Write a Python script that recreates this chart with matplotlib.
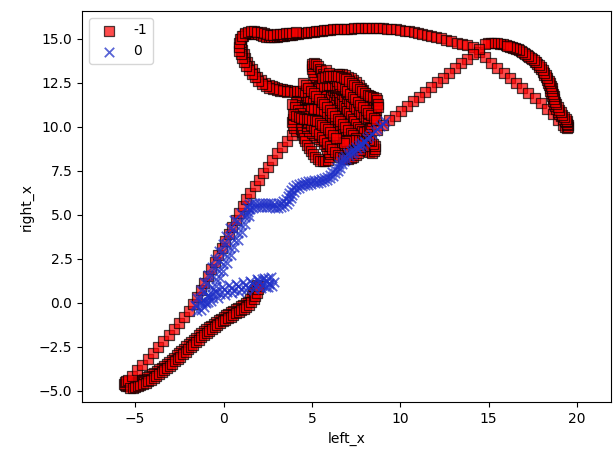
import matplotlib
matplotlib.use("Agg")
import matplotlib.pyplot as plt
import numpy as np

# ---------------- data: class -1 (red squares), trajectory pieces ----------------
red_low_x = [1.9, 1.85, 1.8, 1.74, 1.68, 1.6, 1.5, 1.38, 1.25, 1.12, 0.98, 0.84, 0.7, 0.56, 0.42, 0.28, 0.14, 0.0,
             -0.14, -0.28, -0.42, -0.56, -0.7, -0.84, -0.98, -1.12, -1.26, -1.4, -1.54, -1.68, -1.82, -1.96, -2.1,
             -2.24, -2.38, -2.52, -2.66, -2.8, -2.94, -3.08, -3.22, -3.36, -3.5, -3.64, -3.78, -3.92, -4.06, -4.2,
             -4.34, -4.48, -4.62, -4.76, -4.9, -5.04, -5.18, -5.3, -5.42, -5.52, -5.6, -5.62, -5.58, -5.5, -5.4]
red_low_y = [1.0, 0.88, 0.75, 0.62, 0.5, 0.36, 0.2, 0.06, -0.04, -0.12, -0.2, -0.29, -0.37, -0.45, -0.53, -0.62,
             -0.71, -0.8, -0.9, -1.0, -1.1, -1.2, -1.3, -1.4, -1.5, -1.62, -1.74, -1.86, -1.98, -2.1, -2.23, -2.36,
             -2.49, -2.62, -2.75, -2.88, -3.0, -3.12, -3.24, -3.36, -3.47, -3.58, -3.69, -3.79, -3.89, -3.98, -4.07,
             -4.15, -4.23, -4.31, -4.38, -4.45, -4.52, -4.58, -4.64, -4.69, -4.73, -4.74, -4.7, -4.62, -4.53, -4.45,
             -4.38]

red_low2_x = [-5.3, -5.15, -5.0, -4.85, -4.7, -4.55, -4.4, -4.25, -4.1, -3.95, -3.8, -3.65, -3.5, -3.35, -3.2,
              -3.05, -2.9, -2.75, -2.6, -2.45, -2.3, -2.15, -2.0, -1.85, -1.7, -1.55, -1.4, -1.25, -1.1, -0.95,
              -0.8, -0.65, -0.5, -0.35, -0.2, -0.05, 0.1, 0.25, 0.4, 0.55, 0.7, 0.85, 1.0, 1.15, 1.3, 1.45, 1.58,
              1.7, 1.8, 1.88, 1.94, 1.98]
red_low2_y = [-4.86, -4.84, -4.8, -4.75, -4.69, -4.62, -4.54, -4.46, -4.37, -4.27, -4.16, -4.05, -3.94, -3.82,
              -3.7, -3.58, -3.46, -3.33, -3.2, -3.07, -2.94, -2.8, -2.66, -2.52, -2.38, -2.24, -2.1, -1.97, -1.84,
              -1.72, -1.6, -1.49, -1.38, -1.27, -1.17, -1.07, -0.97, -0.88, -0.79, -0.7, -0.61, -0.52, -0.43,
              -0.34, -0.24, -0.12, 0.02, 0.18, 0.36, 0.55, 0.75, 0.95]

red_rise_x = [-5.2, -4.9, -4.6, -4.3, -4.0, -3.7, -3.4, -3.1, -2.8, -2.5, -2.22, -1.96, -1.72, -1.5, -1.3, -1.1,
              -0.9, -0.7, -0.5, -0.3, -0.1, 0.1, 0.3, 0.5, 0.7, 0.9, 1.1, 1.3, 1.52, 1.76, 2.0, 2.25, 2.5, 2.76,
              3.02, 3.3, 3.6, 3.9]
red_rise_y = [-4.15, -3.85, -3.53, -3.2, -2.87, -2.54, -2.2, -1.86, -1.52, -1.18, -0.82, -0.45, -0.07, 0.32, 0.71,
              1.1, 1.5, 1.9, 2.3, 2.7, 3.1, 3.5, 3.9, 4.3, 4.7, 5.1, 5.5, 5.88, 6.25, 6.62, 6.98, 7.35, 7.72, 8.1,
              8.48, 8.85, 9.2, 9.5]

red_knot_x = [4.1, 4.0, 3.93, 3.9, 3.92, 3.98, 4.08, 4.22, 4.38, 4.52, 4.6, 4.6, 4.55, 4.48, 4.42, 4.4, 4.42, 4.48,
              4.55, 4.63, 4.72, 4.82, 4.93, 5.05, 5.18, 5.32, 5.47, 5.62, 5.77, 5.9, 5.98, 6.0, 5.96, 5.88, 5.78,
              5.66, 5.53, 5.4, 5.26, 5.12, 4.98, 4.85, 4.75, 4.7, 4.72, 4.8, 4.92, 5.07, 5.23, 5.39, 5.53, 5.66,
              5.78, 5.89, 5.99, 6.09, 6.19, 6.3, 6.42, 6.55, 6.69, 6.84, 7.0, 7.16, 7.3, 7.4, 7.44, 7.41, 7.32,
              7.19, 7.04, 6.89, 6.75,
              6.6, 6.45, 6.3, 6.15, 6.0, 5.85, 5.7, 5.55, 5.4, 5.25, 5.1, 4.95, 4.8, 4.64, 4.48, 4.32, 4.18, 4.09,
              4.07, 4.13, 4.25, 4.4, 4.57, 4.75, 4.94, 5.13, 5.32, 5.5, 5.68, 5.85, 6.01, 6.16, 6.31, 6.46, 6.61,
              6.76, 6.91, 7.06, 7.21, 7.36, 7.51, 7.66, 7.81, 7.96, 8.1, 8.25, 8.4, 8.52, 8.58, 8.56, 8.48, 8.36,
              8.22,
              8.07, 7.92, 7.77, 7.62, 7.47, 7.32, 7.17, 7.02, 6.87, 6.72, 6.57, 6.42, 6.27, 6.12, 5.97, 5.82, 5.67,
              5.52, 5.37, 5.22, 5.07, 4.92, 4.78, 4.68, 4.64, 4.68, 4.78, 4.92, 5.07, 5.22, 5.35, 5.45, 5.5,
              5.5, 5.46, 5.38, 5.29, 5.2, 5.11, 5.04, 4.99, 4.98, 5.03, 5.13, 5.25, 5.35, 5.44, 5.53, 5.62, 5.71,
              5.81, 5.91, 6.01, 6.11, 6.21, 6.31, 6.41, 6.51, 6.61, 6.71, 6.81, 6.91, 7.01, 7.11, 7.21, 7.31, 7.41,
              7.51, 7.61, 7.71, 7.83, 7.97, 8.11, 8.23, 8.31, 8.35,
              8.38, 8.42, 8.48, 8.55, 8.6, 8.63, 8.62, 8.57, 8.48, 8.36, 8.22, 8.09, 7.98, 7.88, 7.77, 7.64, 7.5,
              7.35, 7.19, 7.03, 6.87, 6.71, 6.55, 6.4, 6.27, 6.17, 6.12, 6.13, 6.19, 6.29, 6.41, 6.54, 6.68, 6.82,
              6.96, 7.1, 7.24, 7.38, 7.52, 7.66, 7.8, 7.94, 8.07, 8.18, 8.24, 8.22, 8.16, 8.08,
              7.96, 7.82, 7.67, 7.52, 7.37, 7.22, 7.07, 6.92, 6.77, 6.62, 6.47, 6.32, 6.17, 6.02, 5.87, 5.72, 5.57,
              5.42, 5.27, 5.12, 4.97, 4.82, 4.67, 4.52, 4.37, 4.22, 4.07, 3.92, 3.77, 3.62]
red_knot_y = [9.75, 9.92, 10.1, 10.28, 10.46, 10.64, 10.8, 10.9, 10.92, 10.84, 10.7, 10.54, 10.38, 10.22, 10.05,
              9.88, 9.7, 9.52, 9.34, 9.16, 8.98, 8.8, 8.62, 8.45, 8.3, 8.17, 8.07, 8.02, 8.04, 8.12, 8.26, 8.42,
              8.58, 8.73, 8.88, 9.02, 9.16, 9.3, 9.43, 9.55, 9.65, 9.76, 9.9, 10.06, 10.22, 10.37, 10.48, 10.55,
              10.57, 10.54, 10.46, 10.35, 10.21, 10.06, 9.9, 9.73, 9.56, 9.39, 9.23, 9.08, 8.95, 8.85, 8.79, 8.78,
              8.84, 8.95, 9.09, 9.23, 9.35, 9.43, 9.46, 9.44, 9.38,
              9.52, 9.7, 9.88, 10.06, 10.24, 10.42, 10.6, 10.78, 10.95, 11.11, 11.26, 11.39, 11.5, 11.58, 11.62,
              11.6, 11.52, 11.39, 11.24, 11.1, 11.0, 10.96, 10.96, 10.97, 10.99, 11.0, 10.99, 10.95, 10.88, 10.78,
              10.66, 10.53, 10.39, 10.24, 10.09, 9.94, 9.79, 9.64, 9.49, 9.34, 9.19, 9.04, 8.89, 8.75, 8.63, 8.54,
              8.52, 8.6, 8.74, 8.9, 9.04, 9.16, 9.26,
              9.37, 9.5, 9.65, 9.8, 9.96, 10.12, 10.28, 10.44, 10.6, 10.76, 10.92, 11.08, 11.24, 11.4, 11.56, 11.72,
              11.88, 12.02, 12.14, 12.23, 12.28, 12.28, 12.22, 12.1, 11.96, 11.82, 11.7, 11.63, 11.6, 11.62, 11.7,
              11.82, 11.97,
              12.13, 12.3, 12.46, 12.62, 12.78, 12.94, 13.1, 13.26, 13.42, 13.56, 13.63, 13.58, 13.45, 13.3, 13.15,
              13.0, 12.85, 12.7, 12.55, 12.4, 12.25, 12.1, 11.95, 11.8, 11.65, 11.5, 11.35, 11.2, 11.05, 10.9,
              10.75, 10.6, 10.45, 10.3, 10.15, 10.0, 9.87, 9.77, 9.72, 9.76, 9.86, 10.0, 10.16,
              10.32, 10.48, 10.64, 10.8, 10.96, 11.12, 11.28, 11.44, 11.57, 11.67, 11.74, 11.82, 11.93, 12.07,
              12.22, 12.37, 12.51, 12.63, 12.74, 12.84, 12.92, 12.98, 13.0, 12.97, 12.9, 12.78, 12.64, 12.49,
              12.35, 12.22, 12.1, 11.98, 11.86, 11.73, 11.6, 11.46, 11.32, 11.18, 11.04, 10.9, 10.76, 10.62, 10.5,
              10.55, 10.7, 10.86, 11.0, 11.14,
              11.26, 11.36, 11.46, 11.56, 11.66, 11.76, 11.86, 11.96, 12.06, 12.15, 12.22, 12.28, 12.33, 12.36,
              12.38, 12.38, 12.36, 12.32, 12.27, 12.21, 12.15, 12.09, 12.04, 12.0, 11.98, 11.98, 12.0, 12.02,
              12.04, 12.06]

# extra strands of the tangle
red_knot2_x = [4.5, 4.65, 4.8, 4.95, 5.1, 5.25, 5.4, 5.55, 5.7, 5.85, 6.0, 6.15, 6.3, 6.45, 6.6, 6.75, 6.9, 7.05,
               7.2, 7.35, 7.5, 7.65, 7.8, 7.95,
               5.8, 5.95, 6.1, 6.25, 6.4, 6.55, 6.7, 6.85, 7.0, 7.15, 7.3, 7.45, 7.6, 7.75, 7.9, 8.05, 8.2, 8.35,
               8.5, 8.65,
               3.9, 4.05, 4.2, 4.35, 4.5, 4.65, 4.8, 4.95, 5.1, 5.25, 5.4, 5.55, 5.7, 5.85, 6.0, 6.15, 6.3, 6.45,
               6.6, 6.75, 6.9, 7.05, 7.2, 7.35, 7.5, 7.62, 7.7, 7.72, 7.66, 7.55, 7.4, 7.25, 7.1, 6.95, 6.8,
               5.6, 5.75, 5.9, 6.05, 6.2, 6.35, 6.5, 6.65, 6.8, 6.95, 7.1, 7.25, 7.4, 7.55, 7.7, 7.85, 8.0, 8.15,
               8.3, 8.45, 8.6, 8.7, 8.75, 8.72,
               3.95, 4.1, 4.25, 4.4, 4.55, 4.7, 4.85, 5.0, 5.15, 5.3, 5.45, 5.6, 5.75, 5.9, 6.05, 6.2, 6.35]
red_knot2_y = [12.5, 12.35, 12.2, 12.05, 11.9, 11.74, 11.58, 11.42, 11.26, 11.1, 10.94, 10.78, 10.62, 10.46, 10.3,
               10.14, 9.98, 9.82, 9.66, 9.5, 9.34, 9.18, 9.02, 8.88,
               13.2, 13.05, 12.9, 12.75, 12.6, 12.45, 12.3, 12.15, 12.0, 11.85, 11.7, 11.55, 11.4, 11.25, 11.1,
               10.95, 10.8, 10.65, 10.5, 10.35,
               11.3, 11.13, 10.96, 10.79, 10.62, 10.45, 10.28, 10.11, 9.94, 9.77, 9.6, 9.43, 9.26, 9.09, 8.92, 8.75,
               8.58, 8.41, 8.3, 8.22, 8.18, 8.18, 8.22, 8.3, 8.4, 8.52, 8.66, 8.82, 8.98, 9.12, 9.22, 9.26, 9.24,
               9.18, 9.08,
               12.75, 12.8, 12.85, 12.88, 12.9, 12.9, 12.88, 12.84, 12.78, 12.7, 12.6, 12.5, 12.38, 12.26, 12.14,
               12.02, 11.9, 11.8, 11.72, 11.66, 11.62, 11.5, 11.3, 11.1,
               10.7, 10.62, 10.55, 10.5, 10.46, 10.44, 10.42, 10.4, 10.36, 10.3, 10.22, 10.12, 10.0, 9.86, 9.7,
               9.52, 9.34]

red_top_x = [3.47, 3.32, 3.17, 3.02, 2.87, 2.72, 2.57, 2.35, 2.12, 1.92, 1.75, 1.6, 1.46, 1.34, 1.23, 1.14, 1.06,
             1.0, 0.98, 1.0, 1.08, 1.2, 1.35, 1.5, 1.65, 1.8, 1.95, 2.1, 2.25, 2.4, 2.55, 2.7, 2.85, 3.0, 3.15,
             3.3, 3.45, 3.6, 3.75, 3.9, 4.05, 4.2, 4.35, 4.5, 4.65, 4.8, 4.95, 5.1, 5.25, 5.4, 5.55, 5.7, 5.85,
             6.0, 6.2, 6.4, 6.6, 6.8, 7.0, 7.2, 7.4, 7.6, 7.8, 8.0, 8.2, 8.4, 8.6, 8.8, 9.0, 9.25, 9.5, 9.75,
             10.0, 10.25, 10.5, 10.75, 11.0, 11.25, 11.5, 11.75, 12.0, 12.3, 12.6, 12.9, 13.2, 13.5, 13.8, 14.1]
red_top_y = [12.09, 12.12, 12.16, 12.2, 12.25, 12.3, 12.37, 12.5, 12.66, 12.84, 13.04, 13.25, 13.47, 13.69, 13.91,
             14.13, 14.35, 14.57, 14.79, 14.99, 15.14, 15.24, 15.28, 15.3, 15.3, 15.28, 15.24, 15.19, 15.14, 15.1,
             15.08, 15.08, 15.09, 15.11, 15.13, 15.15, 15.17, 15.19, 15.21, 15.23, 15.25, 15.27, 15.3, 15.32,
             15.34, 15.36, 15.38, 15.4, 15.42, 15.44, 15.46, 15.48, 15.49, 15.5, 15.52, 15.53, 15.54, 15.55,
             15.56, 15.57, 15.58, 15.59, 15.6, 15.6, 15.6, 15.6, 15.6, 15.6, 15.59, 15.57, 15.55, 15.52, 15.49,
             15.46, 15.42, 15.38, 15.33, 15.28, 15.22, 15.16, 15.1, 15.02, 14.94, 14.86, 14.78, 14.7, 14.62, 14.5]

red_top2_x = [3.6, 3.4, 3.2, 3.0, 2.8, 2.6, 2.4, 2.18, 1.97, 1.78, 1.6, 1.44, 1.3, 1.17, 1.06, 0.97, 0.9, 0.86,
              0.86, 0.92, 1.04, 1.2, 1.38, 1.56, 1.74, 1.92, 2.1, 2.28, 2.46, 2.64, 2.82, 3.0, 3.18, 3.36, 3.54,
              3.72, 3.9, 4.08]
red_top2_y = [11.95, 12.0, 12.05, 12.1, 12.16, 12.22, 12.32, 12.45, 12.61, 12.8, 13.0, 13.22, 13.44, 13.66, 13.88,
              14.1, 14.32, 14.54, 14.76, 14.98, 15.16, 15.3, 15.38, 15.42, 15.42, 15.4, 15.36, 15.3, 15.25, 15.22,
              15.22, 15.24, 15.26, 15.28, 15.3, 15.32, 15.34, 15.37]

red_desc_x = [14.45, 14.8, 15.15, 15.5, 15.85, 16.2, 16.55, 16.9, 17.25, 17.6, 17.95, 18.3, 18.62, 18.92, 19.2]
red_desc_y = [14.22, 13.93, 13.64, 13.35, 13.06, 12.77, 12.48, 12.19, 11.9, 11.61, 11.32, 11.02, 10.7, 10.4, 10.12]

red_arc_x = [19.32, 19.42, 19.5, 19.52, 19.46, 19.38, 19.3, 19.2, 19.1, 19.0, 18.92, 18.84, 18.77, 18.71, 18.66,
             18.62, 18.58, 18.54, 18.5, 18.46, 18.41, 18.36, 18.3, 18.23, 18.15, 18.06, 17.96, 17.85, 17.73, 17.6,
             17.46, 17.31, 17.15, 16.98, 16.81, 16.64, 16.47, 16.3, 16.13, 15.96, 15.79, 15.62, 15.45, 15.28,
             15.11, 14.94, 14.77]
red_arc_y = [10.0, 9.93, 9.97, 10.07, 10.16, 10.24, 10.34, 10.46, 10.58, 10.72, 10.86, 11.0, 11.15, 11.3, 11.45,
             11.6, 11.75, 11.9, 12.05, 12.2, 12.35, 12.5, 12.65, 12.8, 12.95, 13.1, 13.25, 13.4, 13.55, 13.7,
             13.84, 13.97, 14.09, 14.2, 14.3, 14.39, 14.47, 14.54, 14.6, 14.65, 14.69, 14.72, 14.74, 14.75,
             14.75, 14.73, 14.68]

red_arc2_x = [19.45, 19.38, 19.28, 19.17, 19.07, 18.98, 18.9, 18.83, 18.77, 18.72, 18.68, 18.64, 18.6, 18.56,
              18.51, 18.46, 18.4, 18.33, 18.25, 18.16, 18.06, 17.95, 17.83, 17.7, 17.56, 17.41, 17.25, 17.08,
              16.91, 16.74, 16.57, 16.4, 16.23, 16.06]
red_arc2_y = [10.3, 10.42, 10.55, 10.68, 10.82, 10.97, 11.12, 11.27, 11.42, 11.57, 11.72, 11.87, 12.02, 12.17,
              12.32, 12.47, 12.62, 12.77, 12.92, 13.07, 13.22, 13.37, 13.51, 13.65, 13.79, 13.92, 14.04, 14.15,
              14.25, 14.34, 14.42, 14.49, 14.55, 14.6]

red_back_x = [14.45, 14.11, 13.77, 13.43, 13.09, 12.75, 12.41, 12.07, 11.73, 11.39, 11.05, 10.71, 10.37, 10.03,
              9.69, 9.35, 9.01, 8.7]
red_back_y = [14.4, 14.13, 13.86, 13.59, 13.32, 13.05, 12.78, 12.51, 12.24, 11.97, 11.7, 11.43, 11.16, 10.89,
              10.62, 10.35, 10.08, 9.8]

# ---------------- data: class 0 (blue crosses) ----------------
blue_up_x = [9.15, 9.0, 8.85, 8.7, 8.55, 8.4, 8.25, 8.1, 7.95, 7.8, 7.65, 7.5, 7.35, 7.2, 7.05, 6.9, 6.76, 6.63,
             6.51, 6.4, 6.28, 6.15, 6.0, 5.84, 5.67, 5.5, 5.32, 5.14, 4.96, 4.78, 4.6, 4.42, 4.25, 4.09, 3.95,
             3.83, 3.73, 3.63, 3.52, 3.39, 3.23, 3.06, 2.88, 2.7, 2.52, 2.34, 2.16, 1.98, 1.8, 1.62, 1.46, 1.34]
blue_up_y = [10.3, 10.16, 10.02, 9.88, 9.74, 9.6, 9.47, 9.34, 9.21, 9.08, 8.96, 8.84, 8.72, 8.6, 8.48, 8.36,
             8.22, 8.07, 7.9, 7.73, 7.56, 7.4, 7.26, 7.15, 7.07, 7.02, 6.99, 6.96, 6.93, 6.9, 6.86, 6.82, 6.76,
             6.67, 6.55, 6.4, 6.23, 6.06, 5.9, 5.77, 5.68, 5.64, 5.63, 5.64, 5.66, 5.68, 5.69, 5.69, 5.67, 5.64,
             5.58, 5.46]

blue_up2_x = [8.0, 7.85, 7.7, 7.55, 7.4, 7.25, 7.1, 6.95, 6.82, 6.7, 6.58, 6.46, 6.33, 6.19, 6.03, 5.86, 5.69,
              5.51, 5.33, 5.15, 4.97, 4.79, 4.61, 4.43, 4.26, 4.12, 4.0, 3.9, 3.8, 3.7, 3.58, 3.44, 3.28, 3.1,
              2.92, 2.74, 2.56, 2.38, 2.2, 2.02, 1.84, 1.66, 1.5, 1.38, 1.28]
blue_up2_y = [9.1, 8.97, 8.84, 8.71, 8.58, 8.45, 8.32, 8.18, 8.02, 7.85, 7.67, 7.5, 7.34, 7.2, 7.08, 6.98, 6.91,
              6.86, 6.82, 6.78, 6.74, 6.7, 6.66, 6.61, 6.54, 6.43, 6.29, 6.12, 5.94, 5.77, 5.62, 5.5, 5.43, 5.4,
              5.4, 5.41, 5.43, 5.45, 5.46, 5.46, 5.44, 5.4, 5.3, 5.15, 5.0]

blue_mid_x = [1.42, 0.97, 1.22, 0.76, 1.01, 0.55, 0.8, 0.34, 0.6, 0.13, 0.39, -0.08, 0.18, -0.28, -0.03, -0.49,
              -0.24, -0.7, -0.44, -0.91, -0.65, -1.12, -0.86, -1.33, -1.07, -1.53, -1.3, -1.5]
blue_mid_y = [5.3, 5.08, 4.86, 4.64, 4.42, 4.2, 3.98, 3.76, 3.54, 3.32, 3.1, 2.88, 2.66, 2.44, 2.22, 2.0, 1.78,
              1.56, 1.34, 1.12, 0.9, 0.68, 0.46, 0.24, 0.02, -0.2, -0.42, -0.5]

blue_mid2_x = [1.44, 0.58, 1.23, 0.37, 1.03, 0.16, 0.82, -0.04, 0.61, -0.25, 0.4, -0.46, 0.19, -0.67, -0.02,
               -0.88, -0.22, -1.09, -0.43, -1.3, -0.64, -1.51, -0.85, -1.6]
blue_mid2_y = [4.9, 4.68, 4.46, 4.24, 4.02, 3.8, 3.58, 3.36, 3.14, 2.92, 2.7, 2.48, 2.26, 2.04, 1.82, 1.6, 1.38,
               1.16, 0.94, 0.72, 0.5, 0.28, 0.06, -0.16]

blue_low_x = [-1.3, -1.1, -0.9, -0.7, -0.5, -0.3, -0.1, 0.1, 0.3, 0.5, 0.7, 0.9, 1.1, 1.3, 1.5, 1.7, 1.9, 2.1,
              2.3, 2.5, 2.7, 2.85, 2.75, 2.5, 2.2, 1.95, 2.4, 2.6]
blue_low_y = [0.05, -0.25, 0.43, 0.07, 0.69, 0.29, 0.87, 0.43, 0.98, 0.53, 1.08, 0.62, 1.16, 0.7, 1.24, 0.78,
              1.32, 0.85, 1.38, 0.91, 1.44, 1.15, 0.95, 1.4, 1.35, 1.3, 0.9, 1.1]

blue_low2_x = [-1.2, -1.0, -0.8, -0.6, -0.4, -0.2, 0.0, 0.2, 0.4, 0.6, 0.8, 1.0, 1.2, 1.4, 1.6, 1.8, 2.0, 2.2,
               2.4, 2.6]
blue_low2_y = [0.0, -0.01, 0.35, 0.28, 0.59, 0.48, 0.75, 0.6, 0.85, 0.7, 0.95, 0.79, 1.03, 0.87, 1.11, 0.95,
               1.18, 1.01, 1.24, 1.07]

# ---------------- assemble ----------------
red_x = np.array(red_low_x + red_low2_x + red_rise_x + red_knot_x + red_knot2_x + red_top_x + red_top2_x
                 + red_desc_x + red_arc_x + red_arc2_x + red_back_x)
red_y = np.array(red_low_y + red_low2_y + red_rise_y + red_knot_y + red_knot2_y + red_top_y + red_top2_y
                 + red_desc_y + red_arc_y + red_arc2_y + red_back_y)
blue_x = np.array(blue_up_x + blue_up2_x + blue_mid_x + blue_mid2_x + blue_low_x + blue_low2_x)
blue_y = np.array(blue_up_y + blue_up2_y + blue_mid_y + blue_mid2_y + blue_low_y + blue_low2_y)

classes = [-1, 0]
series = {-1: (red_x, red_y), 0: (blue_x, blue_y)}
colors = {-1: 'red', 0: '#2030c8'}
markers = {-1: 's', 0: 'x'}

fig = plt.figure(figsize=(6.13, 4.51), dpi=100)
ax = fig.add_axes([0.134, 0.108, 0.862, 0.868])

for cl in classes:
    xs, ys = series[cl]
    if markers[cl] == 's':
        ax.scatter(xs, ys, s=46, alpha=0.7, c=colors[cl], marker=markers[cl], label=str(cl),
                   edgecolor='black', linewidths=0.9)
    else:
        ax.scatter(xs, ys, s=46, alpha=0.75, c=colors[cl], marker=markers[cl], label=str(cl),
                   linewidths=1.3)

ax.set_xlim(-8.0, 21.9)
ax.set_ylim(-5.66, 16.58)
ax.set_xticks([-5, 0, 5, 10, 15, 20])
ax.set_yticks([-5.0, -2.5, 0.0, 2.5, 5.0, 7.5, 10.0, 12.5, 15.0])
ax.set_xlabel('left_x')
ax.set_ylabel('right_x')
ax.legend(loc='upper left')

fig.savefig('out.png', dpi=100)
